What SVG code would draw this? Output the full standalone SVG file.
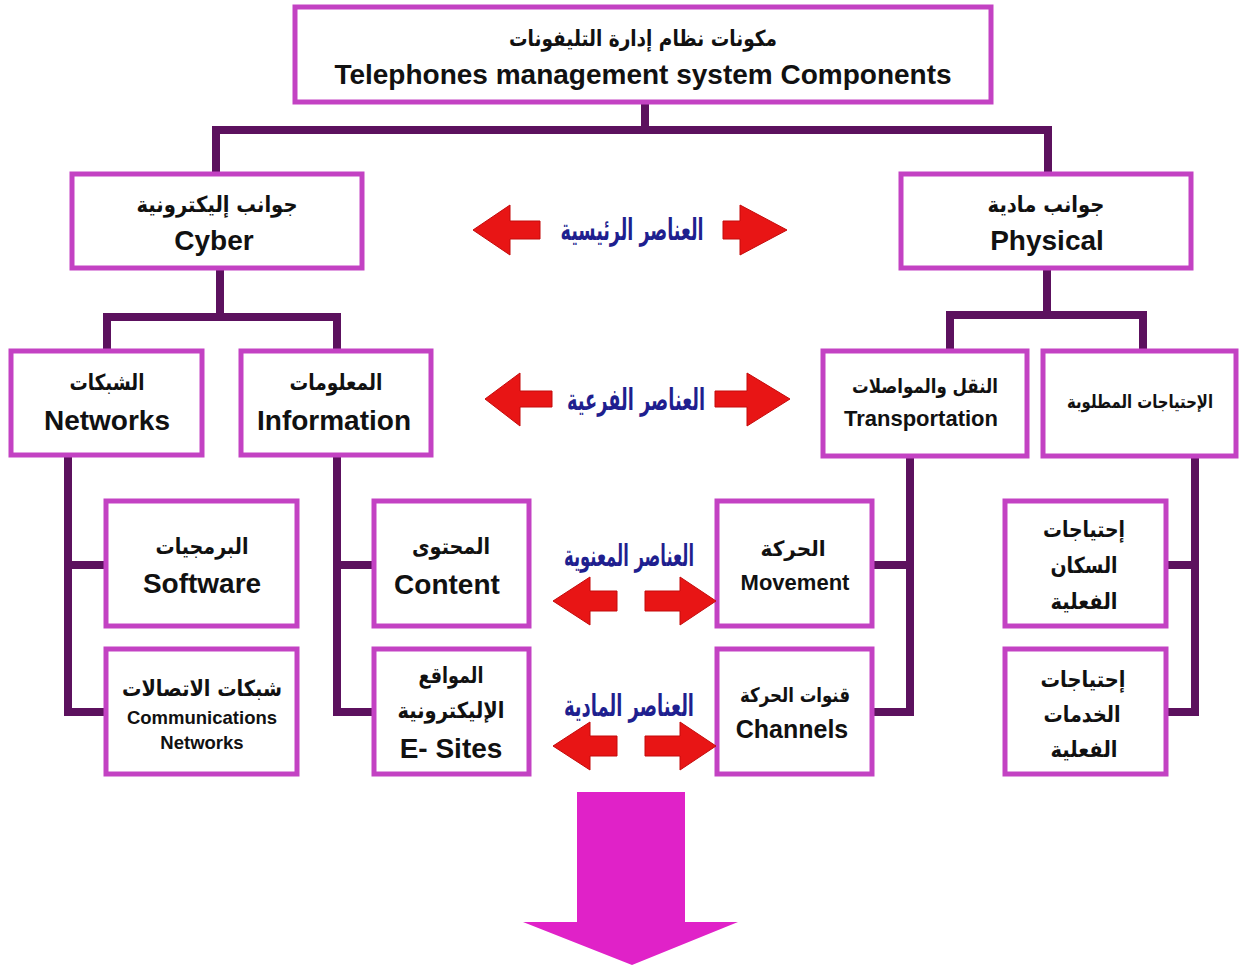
<svg xmlns="http://www.w3.org/2000/svg" width="1242" height="969" viewBox="0 0 1242 969">
  <style>
    .box { fill: #ffffff; stroke: #c342c3; stroke-width: 5; }
    .link { fill: none; stroke: #5c115e; stroke-width: 8; stroke-linejoin: miter; stroke-linecap: square; }
    .ar { font-family: "DejaVu Sans", "Liberation Sans", sans-serif; font-weight: bold; fill: #111; text-anchor: middle; }
    .en { font-family: "Liberation Sans", Arial, sans-serif; font-weight: bold; fill: #111; text-anchor: middle; }
    .lvl { font-family: "DejaVu Sans", sans-serif; font-weight: bold; font-size: 17px; fill: #1f1f8f; text-anchor: middle; }
    .red { fill: #e81515; stroke: #c40a0a; stroke-width: 1; }
    .down { fill: #e022c8; }
  </style>
  <rect width="1242" height="969" fill="#ffffff"/>

  <!-- connectors -->
  <g id="connectors">
    <path class="link" d="M645,103 V130 M216,170 V130 H1048 V170"/>
    <path class="link" d="M220,270 V317 M107,348 V317 H337 V348"/>
    <path class="link" d="M1047,270 V315 M950,348 V315 H1143 V348"/>
    <path class="link" d="M68,458 V712 H103 M68,565 H103"/>
    <path class="link" d="M337,458 V712 H371 M337,565 H371"/>
    <path class="link" d="M910,459 V712 H875 M910,565 H875"/>
    <path class="link" d="M1195,459 V712 H1169 M1195,565 H1169"/>
  </g>

  <!-- root -->
  <g id="root">
    <rect class="box" x="295" y="7" width="696" height="95"/>
    <text class="ar" x="643" y="46" font-size="22" textLength="268" lengthAdjust="spacingAndGlyphs">مكونات نظام إدارة التليفونات</text>
    <text class="en" x="643" y="84" font-size="28">Telephones management system Components</text>
  </g>

  <g id="cyber">
    <rect class="box" x="72" y="174" width="290" height="94"/>
    <text class="ar" x="217" y="212" font-size="22" textLength="161" lengthAdjust="spacingAndGlyphs">جوانب إليكترونية</text>
    <text class="en" x="214" y="250" font-size="28">Cyber</text>
  </g>

  <g id="physical">
    <rect class="box" x="901" y="174" width="290" height="94"/>
    <text class="ar" x="1046" y="212" font-size="22" textLength="117" lengthAdjust="spacingAndGlyphs">جوانب مادية</text>
    <text class="en" x="1047" y="250" font-size="28">Physical</text>
  </g>

  <g id="networks">
    <rect class="box" x="11" y="351" width="191" height="104"/>
    <text class="ar" x="107" y="390" font-size="22" textLength="75" lengthAdjust="spacingAndGlyphs">الشبكات</text>
    <text class="en" x="107" y="430" font-size="28">Networks</text>
  </g>

  <g id="information">
    <rect class="box" x="241" y="351" width="190" height="104"/>
    <text class="ar" x="336" y="390" font-size="22" textLength="93" lengthAdjust="spacingAndGlyphs">المعلومات</text>
    <text class="en" x="334" y="430" font-size="28">Information</text>
  </g>

  <g id="transportation">
    <rect class="box" x="823" y="351" width="204" height="105"/>
    <text class="ar" x="925" y="393" font-size="20" textLength="146" lengthAdjust="spacingAndGlyphs">النقل والمواصلات</text>
    <text class="en" x="921" y="426" font-size="22">Transportation</text>
  </g>

  <g id="needs">
    <rect class="box" x="1043" y="351" width="193" height="105"/>
    <text class="ar" x="1140" y="408" font-size="18" textLength="146" lengthAdjust="spacingAndGlyphs">الإحتياجات المطلوبة</text>
  </g>

  <g id="software">
    <rect class="box" x="106" y="501" width="191" height="125"/>
    <text class="ar" x="202" y="554" font-size="22" textLength="93" lengthAdjust="spacingAndGlyphs">البرمجيات</text>
    <text class="en" x="202" y="593" font-size="28">Software</text>
  </g>

  <g id="comm-networks">
    <rect class="box" x="106" y="649" width="191" height="125"/>
    <text class="ar" x="202" y="696" font-size="22" textLength="160" lengthAdjust="spacingAndGlyphs">شبكات الاتصالات</text>
    <text class="en" x="202" y="724" font-size="18.5">Communications</text>
    <text class="en" x="202" y="749" font-size="18.5">Networks</text>
  </g>

  <g id="content">
    <rect class="box" x="374" y="501" width="155" height="125"/>
    <text class="ar" x="451" y="554" font-size="22" textLength="78" lengthAdjust="spacingAndGlyphs">المحتوى</text>
    <text class="en" x="447" y="594" font-size="28">Content</text>
  </g>

  <g id="e-sites">
    <rect class="box" x="374" y="649" width="155" height="125"/>
    <text class="ar" x="451" y="683" font-size="22" textLength="65" lengthAdjust="spacingAndGlyphs">المواقع</text>
    <text class="ar" x="451" y="718" font-size="22" textLength="107" lengthAdjust="spacingAndGlyphs">الإليكترونية</text>
    <text class="en" x="451" y="758" font-size="28">E- Sites</text>
  </g>

  <g id="movement">
    <rect class="box" x="717" y="501" width="155" height="125"/>
    <text class="ar" x="793" y="556" font-size="21" textLength="65" lengthAdjust="spacingAndGlyphs">الحركة</text>
    <text class="en" x="795" y="590" font-size="22">Movement</text>
  </g>

  <g id="channels">
    <rect class="box" x="717" y="649" width="155" height="125"/>
    <text class="ar" x="795" y="702" font-size="20" textLength="110" lengthAdjust="spacingAndGlyphs">قنوات الحركة</text>
    <text class="en" x="792" y="738" font-size="25">Channels</text>
  </g>

  <g id="population-needs">
    <rect class="box" x="1005" y="501" width="161" height="125"/>
    <text class="ar" x="1084" y="537" font-size="22" textLength="82" lengthAdjust="spacingAndGlyphs">إحتياجات</text>
    <text class="ar" x="1084" y="573" font-size="22" textLength="67" lengthAdjust="spacingAndGlyphs">السكان</text>
    <text class="ar" x="1084" y="609" font-size="22" textLength="67" lengthAdjust="spacingAndGlyphs">الفعلية</text>
  </g>

  <g id="services-needs">
    <rect class="box" x="1005" y="649" width="161" height="125"/>
    <text class="ar" x="1083" y="687" font-size="22" textLength="85" lengthAdjust="spacingAndGlyphs">إحتياجات</text>
    <text class="ar" x="1082" y="722" font-size="22" textLength="77" lengthAdjust="spacingAndGlyphs">الخدمات</text>
    <text class="ar" x="1084" y="757" font-size="22" textLength="67" lengthAdjust="spacingAndGlyphs">الفعلية</text>
  </g>

  <!-- level labels with double arrows -->
  <g id="main-elements">
    <polygon class="red" points="473,230 510,205 510,221 540,221 540,239 510,239 510,255"/>
    <polygon class="red" points="723,221 740,221 740,205 787,230 740,255 740,239 723,239"/>
    <text class="lvl" transform="translate(632,240) scale(1,1.75)" textLength="143" lengthAdjust="spacingAndGlyphs">العناصر الرئيسية</text>
  </g>

  <g id="sub-elements">
    <polygon class="red" points="485,399 520,373 520,391 552,391 552,407 520,407 520,426"/>
    <polygon class="red" points="715,391 747,391 747,373 790,399 747,426 747,407 715,407"/>
    <text class="lvl" transform="translate(636,410) scale(1,1.75)" textLength="138" lengthAdjust="spacingAndGlyphs">العناصر الفرعية</text>
  </g>

  <g id="intangible-elements">
    <text class="lvl" transform="translate(629,566) scale(1,1.75)" textLength="130" lengthAdjust="spacingAndGlyphs">العناصر المعنوية</text>
    <polygon class="red" points="553,601 590,577 590,591 617,591 617,611 590,611 590,625"/>
    <polygon class="red" points="645,591 680,591 680,577 716,601 680,625 680,611 645,611"/>
  </g>

  <g id="material-elements">
    <text class="lvl" transform="translate(629,716) scale(1,1.75)" textLength="130" lengthAdjust="spacingAndGlyphs">العناصر المادية</text>
    <polygon class="red" points="553,746 590,722 590,736 617,736 617,756 590,756 590,770"/>
    <polygon class="red" points="645,736 680,736 680,722 716,746 680,770 680,756 645,756"/>
  </g>

  <!-- downward output arrow -->
  <g id="output-arrow">
    <polygon class="down" points="577,792 685,792 685,922 738,922 632,965 523,922 577,922"/>
  </g>
</svg>
